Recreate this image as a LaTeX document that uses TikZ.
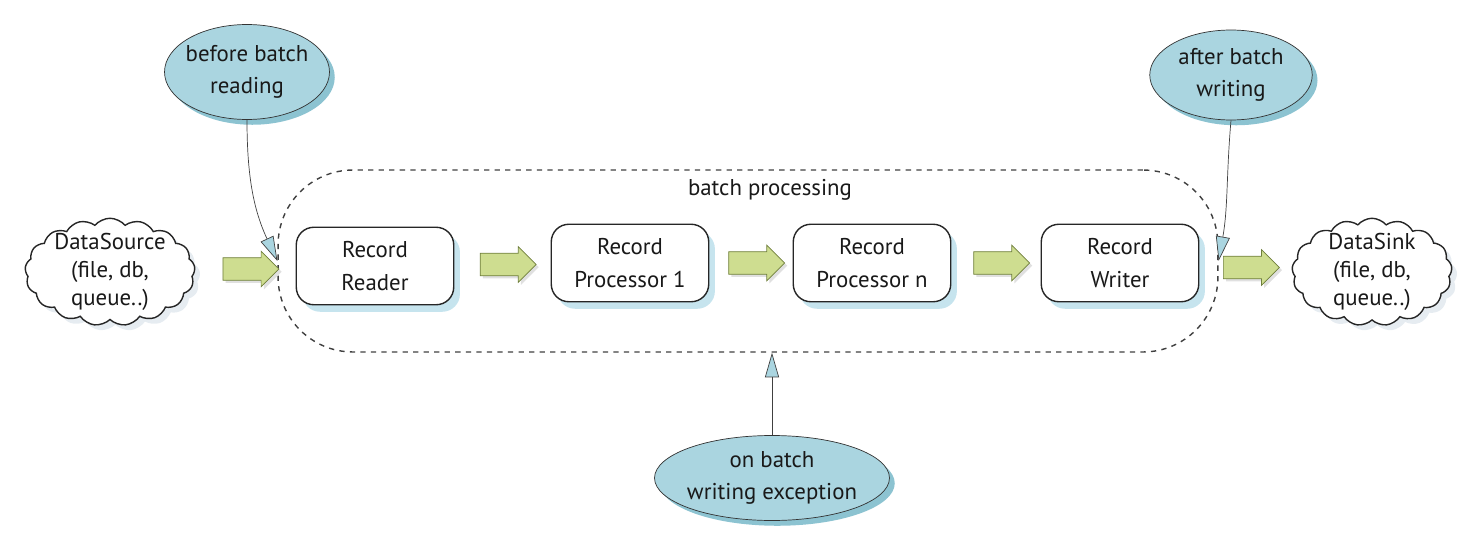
\documentclass[tikz,border=0pt]{standalone}
\usepackage{fontspec}
\setmainfont{PT Sans}
\usetikzlibrary{shapes.symbols,shapes.geometric,shapes.arrows,arrows.meta,shadows,positioning,calc}
\definecolor{hookblue}{HTML}{AAD5E0}
\definecolor{hookshade}{HTML}{8CC3D1}
\definecolor{boxshade}{HTML}{C6E4EE}
\definecolor{flowgreen}{HTML}{CEDD90}
\definecolor{flowedge}{HTML}{6F7F3C}
\definecolor{cloudshade}{HTML}{E6ECF1}
\tikzset{
  handtext/.style={font=\fontsize{13}{18.5}\selectfont, align=center, text=black!90},
  store/.style={cloud, cloud puffs=17, cloud puff arc=100, aspect=1.7, draw=black!85, thick,
    fill=white, inner xsep=-4pt, inner ysep=-10pt, minimum width=3.4cm, minimum height=2.15cm,
    handtext, font=\fontsize{13}{16}\selectfont,
    drop shadow={shadow xshift=3pt, shadow yshift=-3pt, fill=cloudshade, opacity=1}},
  recbox/.style={rectangle, rounded corners=10pt, draw=black!85, thick, fill=white,
    minimum width=3.15cm, minimum height=1.55cm, handtext,
    drop shadow={shadow xshift=3.5pt, shadow yshift=-4pt, fill=boxshade, opacity=1}},
  hook/.style={ellipse, draw=black!80, fill=hookblue, inner xsep=-5pt, inner ysep=-1pt, handtext,
    drop shadow={shadow xshift=3pt, shadow yshift=-3pt, fill=hookshade, opacity=1}},
  flow/.style={single arrow, draw=flowedge, fill=flowgreen, minimum height=1.12cm,
    inner sep=0.22cm, single arrow head extend=0.13cm,
    drop shadow={shadow xshift=1.5pt, shadow yshift=-1.5pt, fill=black!12, opacity=1}},
  region/.style={rectangle, draw=black!75, dashed, thick, rounded corners=1.5cm,
    minimum width=18.8cm, minimum height=3.64cm},
  callback/.style={draw=black!75, -{Triangle[length=14pt, width=8pt, fill=hookblue]}}
}

\begin{document}
\begin{tikzpicture}[x=0.02cm, y=-0.02cm]
  \useasboundingbox (0,0) rectangle (1482,544);

  % batch region
  \node[region] (batch) at (748,261) {};
  \node[handtext] (batchlbl) at (770,190) {batch processing};

  % data source and sink
  \node[store] (src) at (110,272) {DataSource\\(file, db,\\queue..)};
  \node[store, minimum width=3.2cm] (sink) at (1372,272) {DataSink\\(file, db,\\queue..)};

  % record steps
  \node[recbox] (reader) at (375,266) {Record\\Reader};
  \node[recbox] (proc1) at (630,263) {Record\\Processor 1};
  \node[recbox] (procn) at (872,263) {Record\\Processor n};
  \node[recbox] (writer) at (1120,263) {Record\\Writer};

  % flow arrows
  \node[flow] (f1) at ($(src.east)!0.5!(reader.west)$) {};
  \node[flow] (f2) at ($(reader.east)!0.5!(proc1.west)$) {};
  \node[flow] (f3) at ($(proc1.east)!0.5!(procn.west)$) {};
  \node[flow] (f4) at ($(procn.east)!0.5!(writer.west)$) {};
  \node[flow] (f5) at ($(writer.east)!0.5!(sink.west)$) {};

  % listeners
  \node[hook, minimum width=3.3cm, minimum height=1.9cm] (before) at (247,72) {before batch\\reading};
  \node[hook, minimum width=3.25cm, minimum height=1.8cm] (after) at (1231,75) {after batch\\writing};
  \node[hook, minimum width=4.7cm, minimum height=1.7cm] (onerr) at (772,478) {on batch\\writing exception};

  \draw[callback] (before.south) to[out=-90, in=115] (batch.west);
  \draw[callback] (after.south) to[out=-95, in=80] (batch.east);
  \draw[callback] (onerr.north) -- (batch.south -| onerr.north);
\end{tikzpicture}
\end{document}
